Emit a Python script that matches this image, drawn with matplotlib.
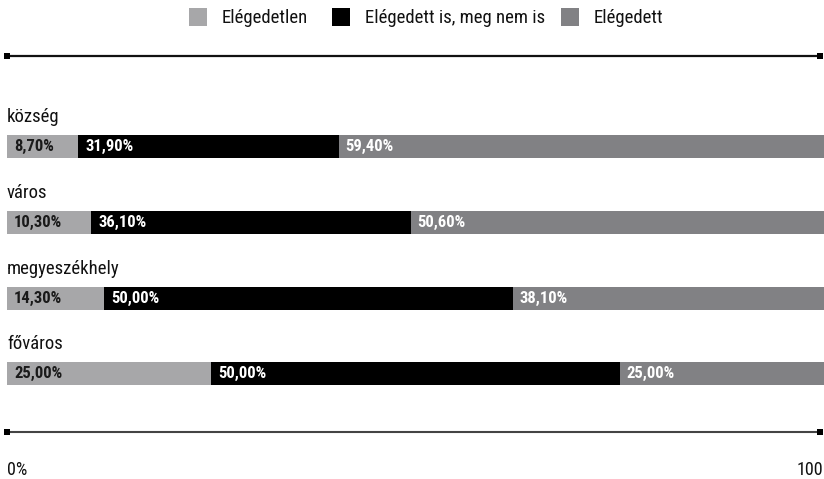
import numpy as np
import matplotlib
matplotlib.use('Agg')
import matplotlib.pyplot as plt
from matplotlib.patches import Rectangle

# data
categories = ['község', 'város', 'megyeszékhely', 'főváros']
series_names = ['Elégedetlen', 'Elégedett is, meg nem is', 'Elégedett']
# bar lengths as drawn in the picture (each row fills 0..100)
elegedetlen = [8.7, 10.3, 11.9, 25.0]
kozepes = [31.9, 39.1, 50.0, 50.0]
elegedett = [59.4, 50.6, 38.1, 25.0]
# printed labels
elegedetlen_lbl = ['8,70%', '10,30%', '14,30%', '25,00%']
kozepes_lbl = ['31,90%', '36,10%', '50,00%', '50,00%']
elegedett_lbl = ['59,40%', '50,60%', '38,10%', '25,00%']
colors = ['#a7a7a9', '#000000', '#818184']
label_colors = ['#1a1a1a', '#ffffff', '#ffffff']

plt.rcParams['font.family'] = ['Roboto Condensed', 'Barlow Condensed', 'DejaVu Sans']

W, H = 824, 479
fig = plt.figure(figsize=(W / 100, H / 100), dpi=100)

# overlay in pixel coords for lines, legend, labels
pax = fig.add_axes([0, 0, 1, 1])
pax.set_xlim(0, W)
pax.set_ylim(H, 0)
pax.axis('off')

# bars axis: 0..100 maps to pixel 7..824
ax = fig.add_axes([7 / W, 0, 817 / W, 1])
ax.set_xlim(0, 100)
ax.set_ylim(H, 0)
ax.axis('off')

bar_y = [146, 222, 298, 373]
bar_h = 23
series = [elegedetlen, kozepes, elegedett]
labels = [elegedetlen_lbl, kozepes_lbl, elegedett_lbl]
for i, cat in enumerate(categories):
    left = 0
    for s, vals in enumerate(series):
        v = vals[i]
        ax.barh(bar_y[i], v, left=left, height=bar_h, color=colors[s], linewidth=0)
        ax.annotate(labels[s][i], (left, bar_y[i]),
                    xytext=(5, 0), textcoords='offset points',
                    ha='left', va='center', fontsize=12, fontweight='bold',
                    color=label_colors[s])
        left += v
    pax.text(7, bar_y[i] - 29, cat, ha='left', va='center', fontsize=13.5, color='#111111')

# top and bottom rules with square ends
pax.plot([7, 820], [56, 56], color='#111111', lw=1.6, solid_capstyle='butt')
pax.plot([7, 820], [56, 56], 's', color='#000000', ms=4.5, mew=0)
pax.plot([7, 820], [432, 432], color='#444444', lw=1.5, solid_capstyle='butt')
pax.plot([7, 820], [432, 432], 's', color='#000000', ms=4.5, mew=0)

pax.text(7, 470, '0%', ha='left', va='center', fontsize=13, color='#111111')
pax.text(823, 470, '100', ha='right', va='center', fontsize=13, color='#111111')

# legend
leg_x = [189, 332, 561]
for s, name in enumerate(series_names):
    pax.add_patch(Rectangle((leg_x[s], 8), 18, 18, color=colors[s], lw=0))
    pax.text(leg_x[s] + 33, 18, name, ha='left', va='center', fontsize=13.5, color='#111111')

fig.savefig('out.png', dpi=100)
plt.close()
